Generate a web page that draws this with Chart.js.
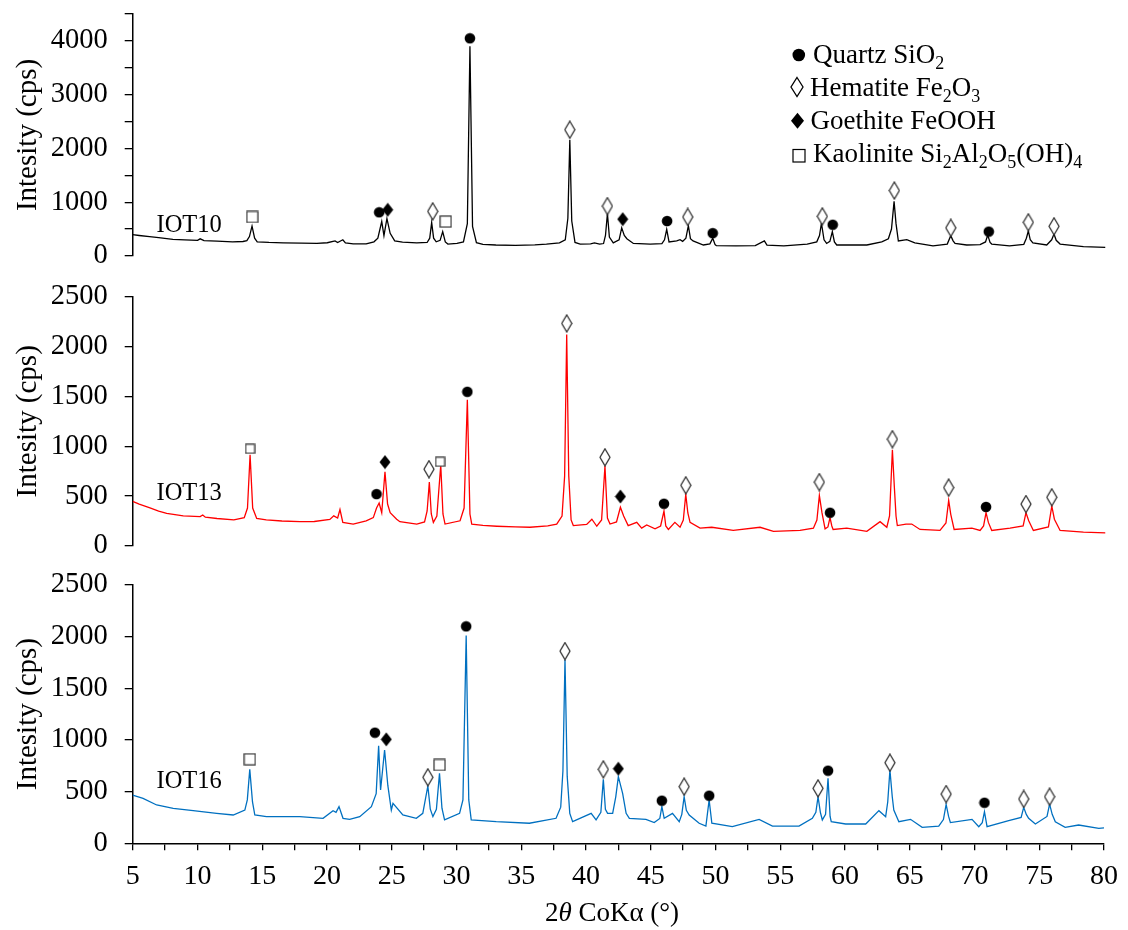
<!DOCTYPE html>
<html><head><meta charset="utf-8">
<script src="https://cdn.jsdelivr.net/npm/chart.js@4.4.1/dist/chart.umd.min.js"></script>
<style>
html,body{margin:0;padding:0;background:#fff;}
#wrap{position:relative;width:1128px;height:930px;overflow:hidden;background:#fff;}
canvas{position:absolute;left:0;}
#ov{position:absolute;left:0;top:0;pointer-events:none;}
</style></head><body>
<div id="wrap">
<canvas id="c1" width="1128" height="310" style="top:-20px"></canvas>
<canvas id="c2" width="1128" height="320" style="top:260px"></canvas>
<canvas id="c3" width="1128" height="380" style="top:550px"></canvas>
<svg id="ov" width="1128" height="930" font-family="'Liberation Serif','Times New Roman',serif">
  <!-- legend -->
  <circle cx="798.8" cy="55" r="6.3" fill="#000"/>
  <text x="813" y="63.3" font-size="27">Quartz SiO<tspan font-size="18" dy="6">2</tspan></text>
  <path d="M797 77.5 L803 87 L797 96.5 L791 87 Z" fill="#fff" stroke="#000" stroke-width="1.3"/>
  <text x="810" y="96" font-size="27">Hematite Fe<tspan font-size="18" dy="6">2</tspan><tspan dy="-6">O</tspan><tspan font-size="18" dy="6">3</tspan></text>
  <path d="M797.5 112.7 L804 120.7 L797.5 128.7 L791 120.7 Z" fill="#000"/>
  <text x="810.5" y="128.7" font-size="27">Goethite FeOOH</text>
  <rect x="793" y="149.5" width="12" height="12.5" fill="#fff" stroke="#000" stroke-width="1.2"/>
  <text x="813" y="161.7" font-size="27">Kaolinite Si<tspan font-size="18" dy="6">2</tspan><tspan dy="-6">Al</tspan><tspan font-size="18" dy="6">2</tspan><tspan dy="-6">O</tspan><tspan font-size="18" dy="6">5</tspan><tspan dy="-6">(OH)</tspan><tspan font-size="18" dy="6">4</tspan></text>
  <!-- panel labels -->
  <text x="156.5" y="231.7" font-size="24.5">IOT10</text>
  <text x="156.5" y="500" font-size="24.5">IOT13</text>
  <text x="156.5" y="788.3" font-size="24.5">IOT16</text>
  <!-- x axis title -->
  <text x="612" y="921" font-size="27" text-anchor="middle">2<tspan font-style="italic">θ</tspan> CoKα (°)</text>
</svg>
</div>
<script>
// ---------- DATA ----------
const xTicksMin = 5, xTicksMax = 80;

const iot10Theta = [5.0,5.5,6.3,7.0,8.1,9.0,10.0,10.2,10.5,11.5,12.7,13.5,13.8,14.0,14.2,14.4,14.6,15.5,16.6,18.0,19.2,20.0,20.6,20.8,21.2,21.4,22.0,23.0,23.6,23.9,24.2,24.37,24.6,24.85,25.2,25.8,26.9,27.7,27.9,28.05,28.2,28.4,28.7,28.9,29.1,29.3,30.0,30.5,30.8,31.0,31.2,31.5,32.0,33.0,34.5,36.0,36.9,37.9,38.35,38.55,38.7,38.85,39.1,39.5,40.3,40.6,41.0,41.3,41.45,41.6,41.75,42.05,42.5,42.7,42.9,43.1,43.6,44.9,45.8,46.0,46.17,46.35,46.94,47.2,47.4,47.65,47.84,48.0,48.2,49.0,49.5,49.72,49.9,50.0,51.5,53.0,53.7,53.9,55.2,57.0,57.74,57.95,58.1,58.3,58.5,58.75,58.94,59.1,59.28,61.6,62.75,63.26,63.5,63.7,63.85,64.03,64.68,65.3,66.7,67.8,68.07,68.25,68.4,69.3,70.33,70.75,70.92,71.1,71.23,72.6,73.7,73.9,74.05,74.2,74.4,75.47,75.85,76.03,76.2,76.5,78.3,80.0];
const iot10Counts = [395,380,360,340,308,300,290,318,285,275,262,268,285,360,555,330,262,250,243,238,232,245,280,250,300,240,222,222,262,330,640,377,696,420,280,255,243,250,330,620,330,262,290,452,260,220,235,260,600,3900,550,245,215,203,195,205,220,243,300,700,2160,650,250,220,225,243,220,230,380,790,350,243,300,522,380,319,232,220,230,300,493,260,278,301,270,330,562,320,278,203,225,330,210,191,186,190,278,200,186,220,261,380,609,300,232,270,452,260,203,203,261,319,500,1014,600,278,301,243,186,220,377,280,232,203,210,260,388,250,220,186,215,330,464,300,243,203,300,406,290,220,174,160];

const iot13Theta = [5.0,5.5,6.33,7.0,7.62,8.9,10.2,10.4,10.6,11.5,12.8,13.6,13.85,14.05,14.25,14.56,15.3,16.5,17.9,19.0,20.2,20.5,20.8,20.98,21.2,22.0,23.0,23.55,23.8,24.0,24.2,24.45,24.65,24.85,25.35,25.6,26.9,27.5,27.7,27.87,28.02,28.18,28.45,28.75,28.92,29.08,30.24,30.55,30.8,31.0,31.14,32.0,33.07,34.5,35.63,37.0,37.69,38.1,38.3,38.46,38.62,38.8,38.97,40.0,40.4,40.78,41.15,41.41,41.6,41.8,42.3,42.6,42.85,43.2,43.86,44.24,44.63,45.27,45.7,45.96,46.1,46.3,46.8,47.2,47.45,47.64,47.8,47.97,48.74,49.64,51.3,53.37,54.4,56.45,57.48,57.75,57.94,58.14,58.38,58.6,58.76,58.9,59.0,60.05,61.6,62.62,63.14,63.35,63.57,63.72,63.85,63.95,64.62,65.06,65.7,67.24,67.7,67.91,68.07,68.33,69.7,70.33,70.6,70.79,70.97,71.23,72.64,73.65,73.87,74.08,74.44,75.6,75.86,76.06,76.5,78.3,80.0];
const iot13Counts = [446,420,381,350,326,301,294,310,288,275,262,284,380,915,380,275,262,250,243,245,265,301,280,365,236,219,252,284,380,430,333,743,420,333,268,243,219,240,350,640,320,236,300,811,320,219,252,380,1465,320,219,205,197,190,187,200,219,300,700,2120,700,260,204,215,268,197,260,802,280,219,240,388,300,204,236,178,210,171,200,349,200,165,236,187,260,517,330,236,178,187,155,187,146,155,178,260,505,333,171,190,284,200,165,178,146,243,187,300,964,592,300,204,219,219,165,155,230,456,317,165,178,155,200,333,236,155,178,200,333,252,155,190,398,268,155,139,130];

const iot16Theta = [5.0,5.8,6.85,8.13,9.67,11.48,12.76,13.66,13.85,14.04,14.25,14.43,15.33,17.9,19.7,20.47,20.7,20.93,21.24,21.75,22.53,23.43,23.8,23.99,24.14,24.45,24.7,24.97,25.1,25.86,26.9,27.4,27.79,27.98,28.18,28.45,28.69,28.88,29.08,30.24,30.5,30.75,30.95,31.14,33.07,35.63,37.69,38.05,38.22,38.38,38.55,38.75,38.97,40.4,40.78,41.15,41.34,41.5,41.67,42.06,42.3,42.5,42.83,43.1,43.35,44.63,45.27,45.7,45.86,46.04,46.68,47.2,47.4,47.58,47.75,47.97,48.74,49.26,49.51,49.72,51.3,53.37,54.4,56.45,57.48,57.75,57.92,58.1,58.25,58.5,58.69,58.85,58.94,60.05,61.6,62.62,63.14,63.3,63.47,63.65,63.77,64.16,65.06,65.96,67.24,67.6,67.81,68.0,68.14,69.81,70.33,70.6,70.77,70.97,72.64,73.6,73.8,74.0,74.18,74.7,75.6,75.8,76.0,76.24,77.0,78.04,79.6,80.0];
const iot16Counts = [467,435,371,339,316,290,274,322,420,716,400,274,258,258,242,316,300,355,242,232,258,355,480,945,516,903,560,322,387,274,242,290,555,330,258,330,677,340,226,290,420,2010,420,226,209,194,242,350,700,1780,650,290,209,290,226,300,620,330,290,290,450,645,484,290,242,232,200,240,355,242,290,209,280,451,320,274,194,167,419,194,161,232,167,167,242,300,451,300,226,280,629,260,209,187,187,316,258,400,709,450,322,209,232,155,167,230,377,260,200,232,161,200,306,161,219,250,348,280,242,187,260,380,280,209,155,177,145,150];

// phase marker positions [2theta, counts]
const iot10Quartz    = [[24.0,812],[31.0,4050],[46.2,649],[49.72,423],[58.97,580],[71.0,452]];
const iot10Hematite  = [[28.13,829],[38.7,2348],[41.6,927],[47.79,725],[58.17,736],[63.72,1217],[68.07,522],[74.05,626],[76.03,551]];
const iot10Goethite  = [[24.66,858],[42.78,684]];
const iot10Kaolinite = [[14.22,725],[29.13,638]];

const iot13Quartz    = [[23.8,520],[30.8,1546],[45.96,423],[58.76,333],[70.79,391]];
const iot13Hematite  = [[27.84,770],[38.46,2232],[41.41,889],[47.64,608],[57.94,640],[63.57,1071],[67.91,585],[73.87,420],[75.86,488]];
const iot13Goethite  = [[24.45,841],[42.6,495]];
const iot13Kaolinite = [[14.05,974],[28.7,844]];

const iot16Quartz    = [[23.7,1071],[30.75,2100],[45.86,413],[49.51,461],[58.69,703],[70.77,393]];
const iot16Hematite  = [[27.79,639],[38.38,1860],[41.34,716],[47.58,548],[57.92,532],[63.47,780],[67.81,477],[73.8,429],[75.8,451]];
const iot16Goethite  = [[24.58,1006],[42.5,722]];
const iot16Kaolinite = [[14.04,813],[28.69,758]];

const yMaxTop = 4500, yMaxMid = 2500, yMaxBot = 2500;
const yTitle = 'Intesity (cps)';

// ---------- MARKER IMAGES ----------
function mk(w,h,draw){const c=document.createElement('canvas');c.width=w;c.height=h;const g=c.getContext('2d');draw(g,w,h);return c;}
const imgQuartz = mk(12,12,(g)=>{g.fillStyle='#000';g.beginPath();g.arc(6,6,5.3,0,Math.PI*2);g.fill();});
const imgHematite = mk(12,19,(g)=>{g.fillStyle='#fff';g.strokeStyle='#333';g.lineWidth=1.3;g.beginPath();g.moveTo(6,1);g.lineTo(11,9.5);g.lineTo(6,18);g.lineTo(1,9.5);g.closePath();g.fill();g.stroke();});
const imgGoethite = mk(12,15,(g)=>{g.fillStyle='#000';g.beginPath();g.moveTo(6,0.5);g.lineTo(11.5,7.5);g.lineTo(6,14.5);g.lineTo(0.5,7.5);g.closePath();g.fill();});
function sq(s){return mk(s+2,s+2,(g)=>{g.fillStyle='#fff';g.strokeStyle='#333';g.lineWidth=1.2;g.fillRect(1,1,s,s);g.strokeRect(1,1,s,s);});}
const imgKaolinite = sq(11), imgKaoliniteSmall = sq(9);

// ---------- CHART BUILDER ----------
Chart.defaults.font.family = "'Liberation Serif','Times New Roman',serif";
Chart.defaults.color = '#000';
const LEFT = 132.7, RIGHT_PAD = 1128 - 1105.5;

function pts(arr){return arr.map(p=>({x:p[0],y:p[1]}));}
function lineData(t,c){return t.map((v,i)=>({x:v,y:c[i]}));}
function markerSet(arr,img){return {type:'scatter',data:pts(arr),pointStyle:img,pointRadius:6,pointHoverRadius:6,showLine:false,order:0};}

function build(id, theta, counts, color, q, h, go, k, kImg, yMax, labelEvery, padTop, padBot, showX){
  const xScale = {type:'linear',min:xTicksMin,max:xTicksMax,display:showX,
           ticks:{stepSize:2.5,autoSkip:false,maxRotation:0,minRotation:0,font:{size:28},color:'#000',padding:10,
                  callback:v=> (Math.abs(v%5)<1e-9) ? String(v) : ''},
           grid:{drawOnChartArea:false,drawTicks:true,tickLength:7,color:'#000',lineWidth:1.3},
           border:{display:true,color:'#000',width:1.5}};
  if (showX) xScale.afterFit = s=>{s.height=50;};
  return new Chart(document.getElementById(id), {
    type:'line',
    data:{datasets:[
      {data:lineData(theta,counts),borderColor:color,borderWidth:1.3,pointRadius:0,tension:0,fill:false,order:1},
      markerSet(q,imgQuartz), markerSet(h,imgHematite), markerSet(go,imgGoethite), markerSet(k,kImg)
    ]},
    options:{
      responsive:false, animation:false, devicePixelRatio:1,
      layout:{padding:{left:0,right:RIGHT_PAD,top:padTop,bottom:padBot}},
      plugins:{legend:{display:false},tooltip:{enabled:false}},
      events:[],
      scales:{
        x:xScale,
        y:{type:'linear',min:0,max:yMax,
           ticks:{stepSize:500,autoSkip:false,font:{size:28.5},color:'#000',padding:17,
                  callback:v=> (v%labelEvery===0 && !(yMax===4500 && v===4500)) ? String(v) : ''},
           grid:{drawOnChartArea:false,drawTicks:true,tickLength:8,color:'#000',lineWidth:1.3},
           border:{display:true,color:'#000',width:1.5},
           title:{display:true,text:yTitle,font:{size:29},color:'#000',padding:{top:11,bottom:0}},
           afterFit:s=>{s.width=LEFT;}}
      }
    }
  });
}

// top: canvas top -20 -> chart area 11.7..270 page
build('c1', iot10Theta, iot10Counts, '#000000', iot10Quartz, iot10Hematite, iot10Goethite, iot10Kaolinite, imgKaolinite, yMaxTop, 1000, 31.7, 20, false);
// middle: canvas top 260 -> 296.7..554.3
build('c2', iot13Theta, iot13Counts, '#FF0000', iot13Quartz, iot13Hematite, iot13Goethite, iot13Kaolinite, imgKaoliniteSmall, yMaxMid, 500, 36.7, 25.7, false);
// bottom: canvas top 550 -> 585..843.3, x axis 50px
build('c3', iot16Theta, iot16Counts, '#0070C0', iot16Quartz, iot16Hematite, iot16Goethite, iot16Kaolinite, imgKaolinite, yMaxBot, 500, 35, 36.7, true);
</script>
</body></html>
